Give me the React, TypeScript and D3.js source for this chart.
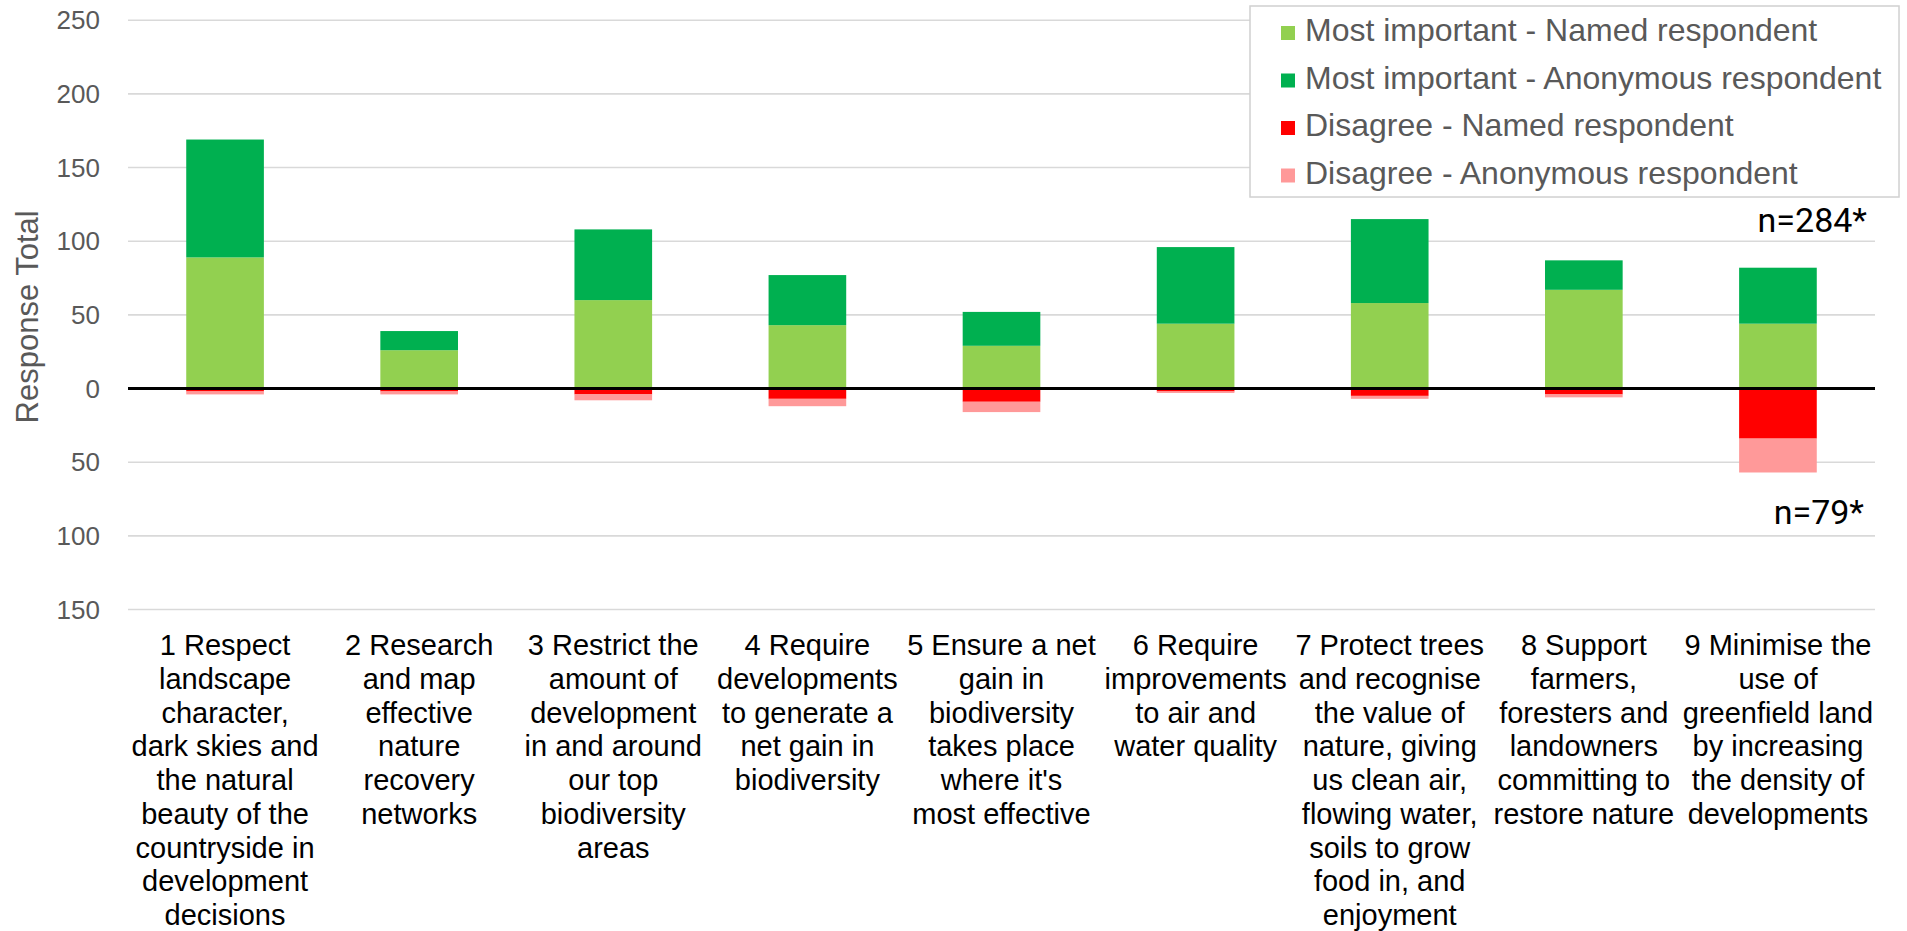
import React from "react";
import * as d3 from "d3";

const categories: string[][] = [
  ["1 Respect", "landscape", "character,", "dark skies and", "the natural", "beauty of the", "countryside in", "development", "decisions"],
  ["2 Research", "and map", "effective", "nature", "recovery", "networks"],
  ["3 Restrict the", "amount of", "development", "in and around", "our top", "biodiversity", "areas"],
  ["4 Require", "developments", "to generate a", "net gain in", "biodiversity"],
  ["5 Ensure a net", "gain in", "biodiversity", "takes place", "where it's", "most effective"],
  ["6 Require", "improvements", "to air and", "water quality"],
  ["7 Protect trees", "and recognise", "the value of", "nature, giving", "us clean air,", "flowing water,", "soils to grow", "food in, and", "enjoyment"],
  ["8 Support", "farmers,", "foresters and", "landowners", "committing to", "restore nature"],
  ["9 Minimise the", "use of", "greenfield land", "by increasing", "the density of", "developments"],
];

const mostNamed = [89, 26, 60, 43, 29, 44, 58, 67, 44];
const mostAnon = [80, 13, 48, 34, 23, 52, 57, 20, 38];
const disagreeNamed = [2, 2, 4, 7, 9, 2, 5, 4, 34];
const disagreeAnon = [2, 2, 4, 5, 7, 1, 2, 2, 23];

const yTicks = [250, 200, 150, 100, 50, 0, -50, -100, -150];

const seriesNames = [
  "Most important - Named respondent",
  "Most important - Anonymous respondent",
  "Disagree - Named respondent",
  "Disagree - Anonymous respondent",
];
const seriesColors = ["#92D050", "#00B050", "#FF0000", "#FF9999"];

const W = 1907;
const H = 931;
const FONT = "'Liberation Sans', Arial, sans-serif";

export default function App() {
  const x = d3
    .scaleBand<number>()
    .domain(d3.range(categories.length))
    .range([128, 1875])
    .paddingInner(0.6)
    .paddingOuter(0.3);
  const y = d3.scaleLinear().domain([-150, 250]).range([609.5, 20.2]);
  const bw = x.bandwidth();

  const bars: JSX.Element[] = [];
  categories.forEach((_, i) => {
    const x0 = x(i) as number;
    const segs = [
      { lo: 0, hi: mostNamed[i], c: 0 },
      { lo: mostNamed[i], hi: mostNamed[i] + mostAnon[i], c: 1 },
      { lo: -disagreeNamed[i], hi: 0, c: 2 },
      { lo: -disagreeNamed[i] - disagreeAnon[i], hi: -disagreeNamed[i], c: 3 },
    ];
    segs.forEach((s, k) => {
      bars.push(
        <rect
          key={`b${i}-${k}`}
          x={x0}
          y={y(s.hi)}
          width={bw}
          height={y(s.lo) - y(s.hi)}
          fill={seriesColors[s.c]}
        />
      );
    });
  });

  const legendX = 1250;
  const legendY = 6;
  const legendW = 649;
  const legendH = 191;

  return (
    <svg
      width={W}
      height={H}
      style={{ position: "absolute", left: 0, top: 0, display: "block", background: "#fff" }}
      fontFamily={FONT}
    >
      <rect x={0} y={0} width={W} height={H} fill="#fff" />
      {yTicks
        .filter((t) => t !== 0)
        .map((t) => (
          <line key={`g${t}`} x1={128} x2={1875} y1={y(t)} y2={y(t)} stroke="#d9d9d9" strokeWidth={1.6} />
        ))}
      {yTicks.map((t) => (
        <text
          key={`t${t}`}
          x={100}
          y={y(t) + 9}
          textAnchor="end"
          fontSize={26}
          fill="#595959"
        >
          {Math.abs(t)}
        </text>
      ))}
      <text
        transform={`translate(38, ${(y(250) + y(-150)) / 2 + 2}) rotate(-90)`}
        textAnchor="middle"
        fontSize={31}
        fill="#595959"
      >
        Response Total
      </text>
      {bars}
      <line x1={128} x2={1875} y1={y(0)} y2={y(0)} stroke="#000" strokeWidth={2.8} />
      {categories.map((lines, i) => {
        const cx = (x(i) as number) + bw / 2;
        return (
          <text key={`c${i}`} textAnchor="middle" fontSize={29} fill="#000">
            {lines.map((ln, j) => (
              <tspan key={j} x={cx} y={655 + j * 33.75}>
                {ln}
              </tspan>
            ))}
          </text>
        );
      })}
      <rect
        x={legendX}
        y={legendY}
        width={legendW}
        height={legendH}
        fill="#fff"
        stroke="#d0d0d0"
        strokeWidth={1.5}
      />
      {seriesNames.map((name, k) => {
        const base = 41 + k * 47.5;
        return (
          <g key={`l${k}`}>
            <rect x={1281} y={base - 15} width={14} height={14} fill={seriesColors[k]} />
            <text x={1305} y={base} fontSize={32} fill="#595959">
              {name}
            </text>
          </g>
        );
      })}
      <text x={1867} y={232} textAnchor="end" fontSize={34} fontFamily="Roboto, sans-serif" fill="#000">
        n=284*
      </text>
      <text x={1864} y={524} textAnchor="end" fontSize={34} fontFamily="Roboto, sans-serif" fill="#000">
        n=79*
      </text>
    </svg>
  );
}
